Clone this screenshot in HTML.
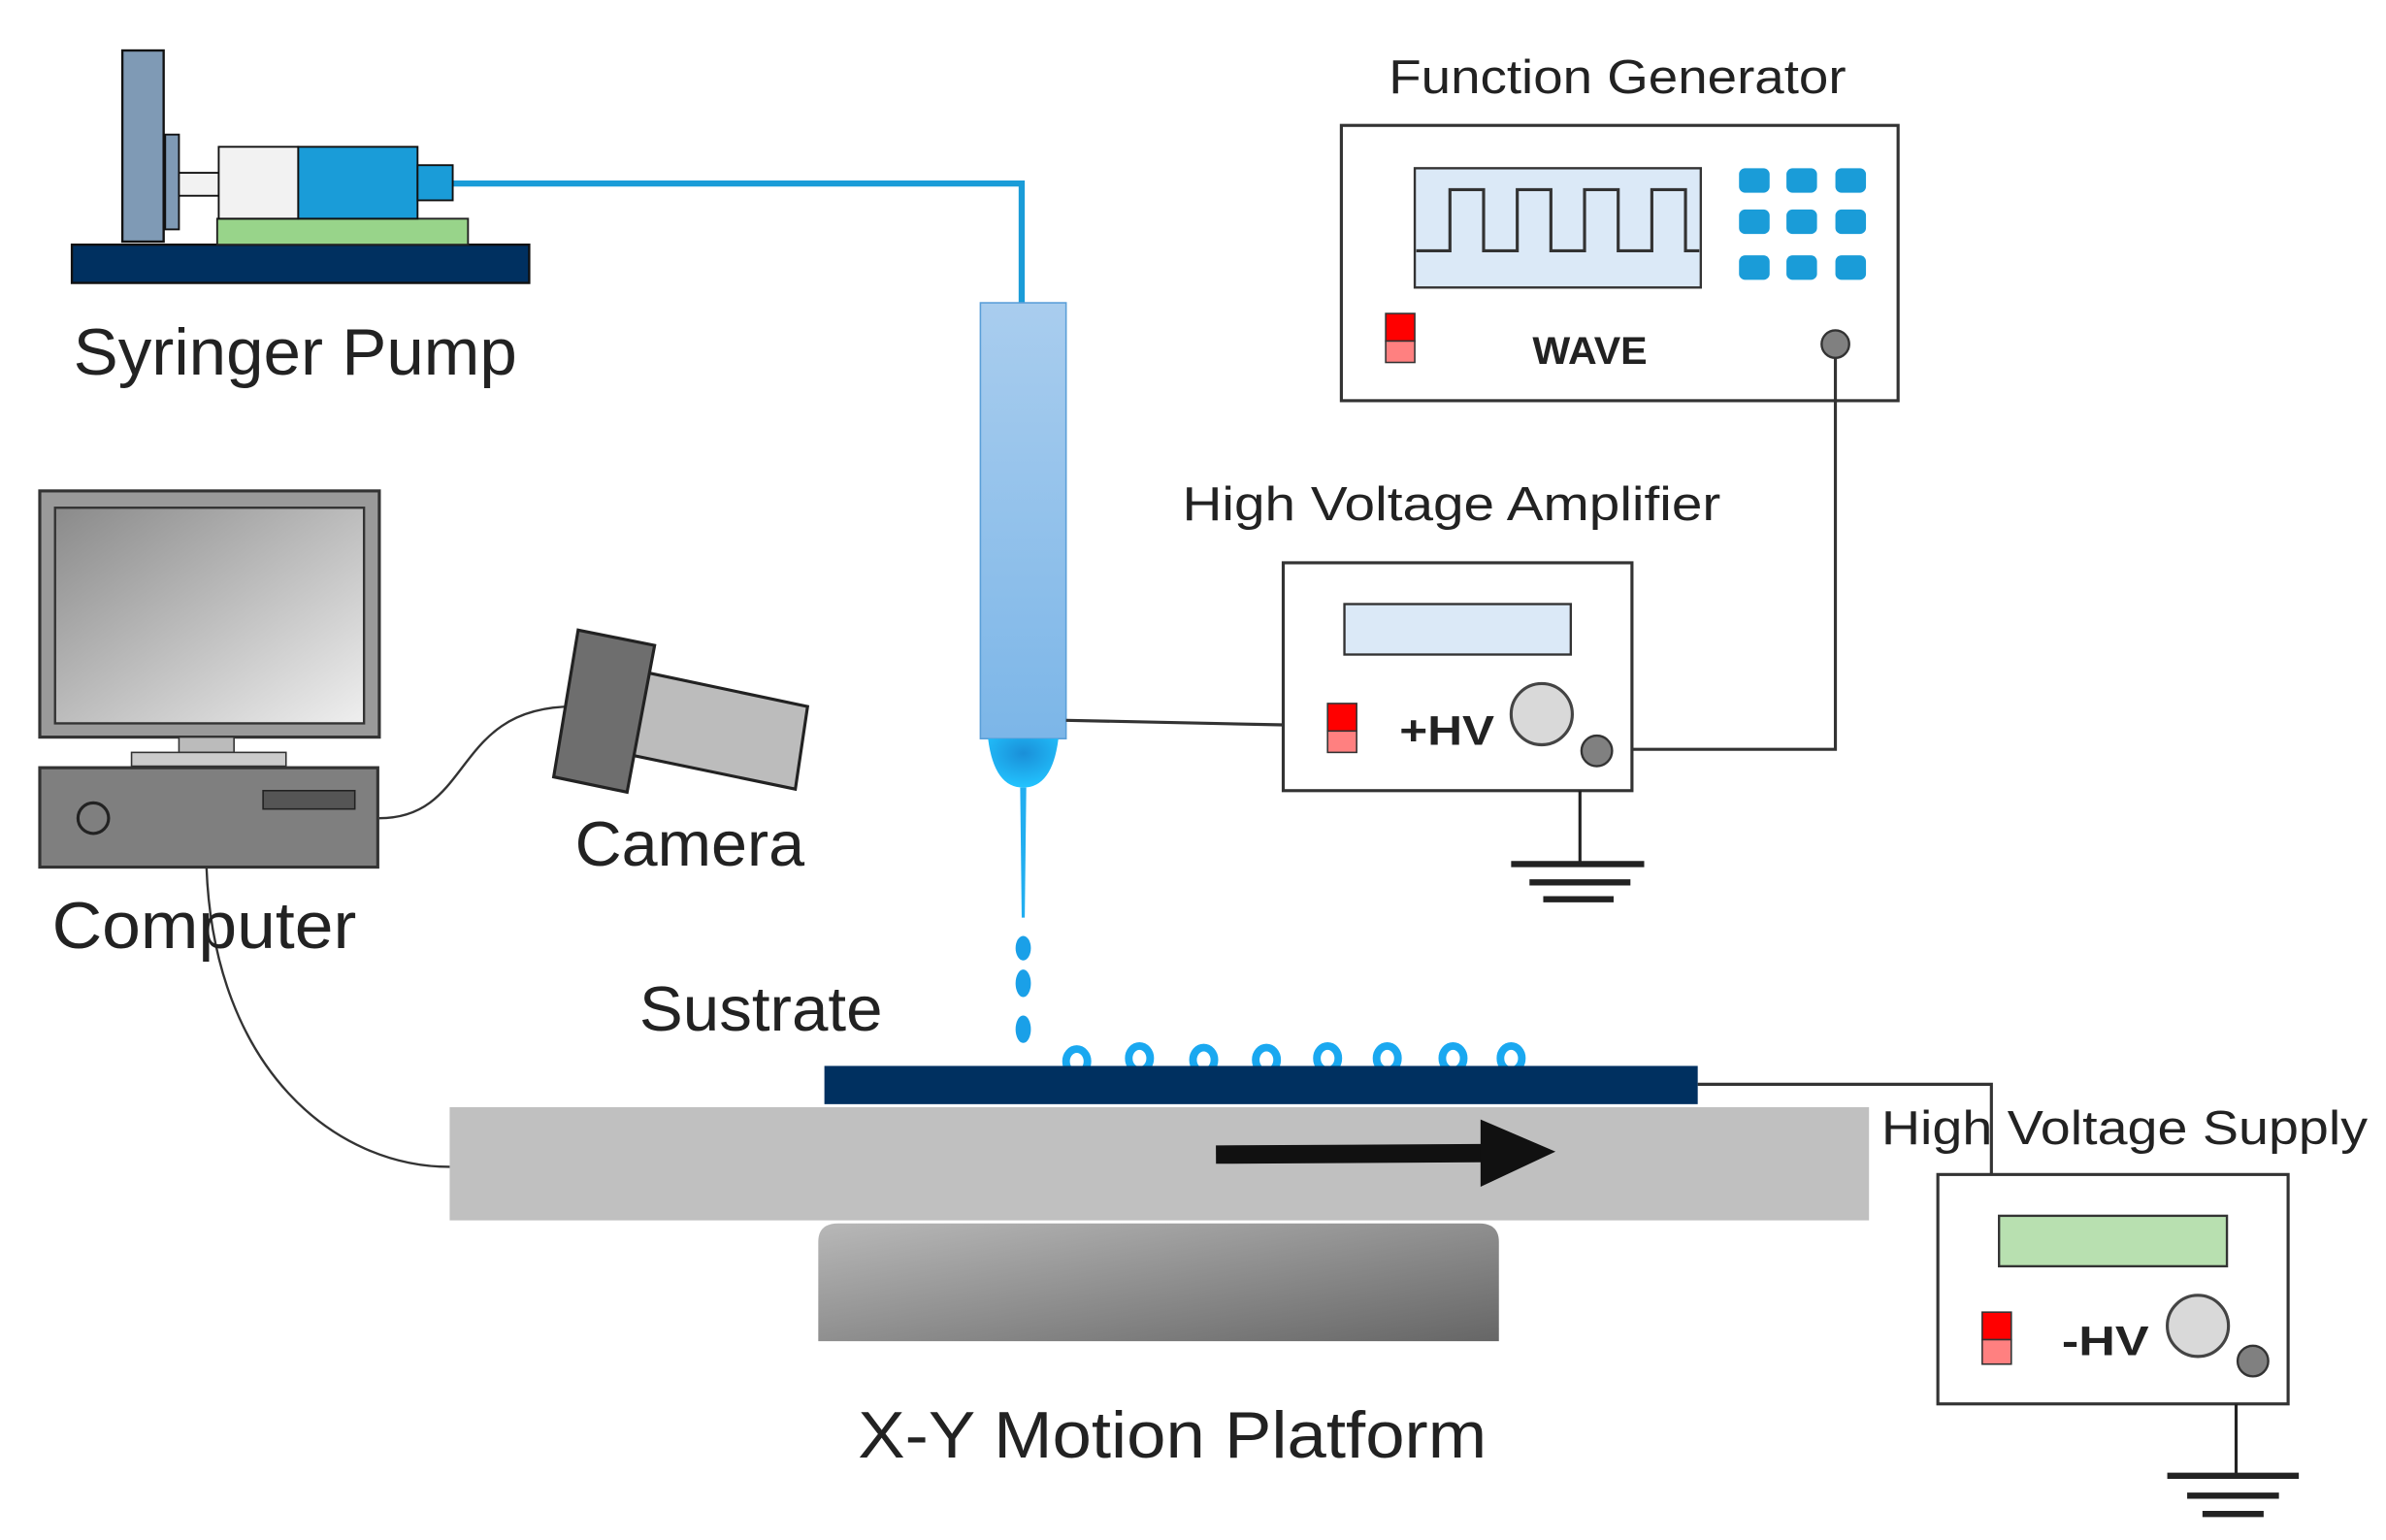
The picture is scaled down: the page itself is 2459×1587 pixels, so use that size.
<!DOCTYPE html>
<html><head><meta charset="utf-8"><style>
html,body{margin:0;padding:0;background:#fff;}
svg{display:block;}
text{font-family:"Liberation Sans",sans-serif;fill:#222;}
</style></head><body>
<svg width="2459" height="1587" viewBox="0 0 1560 1007" preserveAspectRatio="none" xmlns="http://www.w3.org/2000/svg">
<defs>
<linearGradient id="ng" x1="0" y1="0" x2="0" y2="1"><stop offset="0" stop-color="#a9cdee"/><stop offset="1" stop-color="#7cb6e8"/></linearGradient>
<radialGradient id="tg" cx="0.5" cy="0.3" r="0.7"><stop offset="0" stop-color="#1a8fd8"/><stop offset="1" stop-color="#22c4ff"/></radialGradient>
<linearGradient id="bg" x1="0" y1="0" x2="1" y2="1"><stop offset="0" stop-color="#b8b8b8"/><stop offset="1" stop-color="#666"/></linearGradient>
<linearGradient id="sg" x1="0" y1="0" x2="1" y2="1"><stop offset="0" stop-color="#8a8a8a"/><stop offset="1" stop-color="#efefef"/></linearGradient>
</defs>
<rect width="1560" height="1007" fill="#fff"/>
<!-- Syringe pump -->
<path d="M296,120 H668 V198" fill="none" stroke="#1a9cd8" stroke-width="4"/>
<rect x="47" y="160" width="299" height="25" fill="#003060" stroke="#111" stroke-width="1.5"/>
<rect x="142" y="143" width="164" height="17" fill="#98d48a" stroke="#222" stroke-width="1.2"/>
<rect x="80" y="33" width="27" height="125" fill="#7f9ab5" stroke="#111" stroke-width="1.5"/>
<rect x="108" y="88" width="9" height="62" fill="#7f9ab5" stroke="#111" stroke-width="1.2"/>
<rect x="117" y="113" width="26" height="15" fill="#f2f2f2" stroke="#111" stroke-width="1.2"/>
<rect x="143" y="96" width="52" height="47" fill="#f2f2f2" stroke="#111" stroke-width="1.2"/>
<rect x="195" y="96" width="78" height="47" fill="#1a9cd8" stroke="#111" stroke-width="1.2"/>
<rect x="273" y="108" width="23" height="23" fill="#1a9cd8" stroke="#111" stroke-width="1.2"/>
<text x="48" y="245" font-size="43" textLength="290" lengthAdjust="spacingAndGlyphs">Syringer Pump</text>
<!-- Needle -->
<rect x="641" y="198" width="56" height="285" fill="url(#ng)" stroke="#5a9fd8" stroke-width="1"/>
<path d="M646,483 H692 Q688,515 669,515 Q650,515 646,483 Z" fill="url(#tg)"/>
<path d="M667,515 L671,515 L670,600 L668,600 Z" fill="#22aef0"/>
<g fill="#1aa0e8"><ellipse cx="669" cy="620" rx="5" ry="8"/><ellipse cx="669" cy="643" rx="5" ry="9"/><ellipse cx="669" cy="673" rx="5" ry="9"/></g>
<g fill="none" stroke="#1aa8f0" stroke-width="5">
<ellipse cx="704" cy="694" rx="7" ry="8"/><ellipse cx="745" cy="692" rx="7" ry="8"/><ellipse cx="787" cy="693" rx="7" ry="8"/><ellipse cx="828" cy="693" rx="7" ry="8"/><ellipse cx="868" cy="692" rx="7" ry="8"/><ellipse cx="907" cy="692" rx="7" ry="8"/><ellipse cx="950" cy="692" rx="7" ry="8"/><ellipse cx="988" cy="692" rx="7" ry="8"/>
</g>
<!-- Platform -->
<path d="M1110,709 H1302 V768" fill="none" stroke="#333" stroke-width="2"/>
<rect x="294" y="724" width="928" height="74" fill="#c0c0c0"/>
<rect x="539" y="697" width="571" height="25" fill="#003060"/>
<path d="M535,877 V812 Q535,800 548,800 H967 Q980,800 980,812 V877 Z" fill="url(#bg)"/>
<line x1="795" y1="755" x2="972" y2="754" stroke="#111" stroke-width="12"/>
<polygon points="968,732 1017,753 968,776" fill="#111"/>
<text x="418" y="674" font-size="41" textLength="159" lengthAdjust="spacingAndGlyphs">Sustrate</text>
<text x="561" y="953" font-size="43" textLength="411" lengthAdjust="spacingAndGlyphs">X-Y Motion Platform</text>
<!-- Function generator -->
<text x="908" y="61" font-size="31" textLength="299" lengthAdjust="spacingAndGlyphs">Function Generator</text>
<rect x="877" y="82" width="364" height="180" fill="#fff" stroke="#333" stroke-width="2"/>
<rect x="925" y="110" width="187" height="78" fill="#dbe9f7" stroke="#333" stroke-width="1.5"/>
<path d="M926,164 H948 V124 H970 V164 H992 V124 H1014 V164 H1036 V124 H1058 V164 H1080 V124 H1102 V164 H1111" fill="none" stroke="#333" stroke-width="2"/>
<g fill="#1a9cd8">
<rect x="1137" y="110" width="20" height="16" rx="4"/><rect x="1168" y="110" width="20" height="16" rx="4"/><rect x="1200" y="110" width="20" height="16" rx="4"/>
<rect x="1137" y="137" width="20" height="16" rx="4"/><rect x="1168" y="137" width="20" height="16" rx="4"/><rect x="1200" y="137" width="20" height="16" rx="4"/>
<rect x="1137" y="167" width="20" height="16" rx="4"/><rect x="1168" y="167" width="20" height="16" rx="4"/><rect x="1200" y="167" width="20" height="16" rx="4"/>
</g>
<rect x="906" y="205" width="19" height="18" fill="#f00" stroke="#333"/><rect x="906" y="223" width="19" height="14" fill="#ff8080" stroke="#333"/>
<text x="1002" y="238" font-size="25" font-weight="bold" textLength="75" lengthAdjust="spacingAndGlyphs">WAVE</text>
<circle cx="1200" cy="225" r="9" fill="#808080" stroke="#333" stroke-width="1.5"/>
<path d="M1200,234 V490 H1045" fill="none" stroke="#333" stroke-width="2"/>
<!-- HV amplifier -->
<text x="773" y="340" font-size="31" textLength="352" lengthAdjust="spacingAndGlyphs">High Voltage Amplifier</text>
<line x1="697" y1="471" x2="839" y2="474" stroke="#333" stroke-width="2"/>
<rect x="839" y="368" width="228" height="149" fill="#fff" stroke="#333" stroke-width="2"/>
<rect x="879" y="395" width="148" height="33" fill="#dbe9f7" stroke="#333" stroke-width="1.5"/>
<rect x="868" y="460" width="19" height="18" fill="#f00" stroke="#333"/><rect x="868" y="478" width="19" height="14" fill="#ff8080" stroke="#333"/>
<text x="915" y="487" font-size="27" font-weight="bold" textLength="62" lengthAdjust="spacingAndGlyphs">+HV</text>
<circle cx="1008" cy="467" r="20" fill="#d9d9d9" stroke="#444" stroke-width="2"/>
<circle cx="1044" cy="491" r="10" fill="#808080" stroke="#333" stroke-width="1.5"/>
<g stroke="#222"><line x1="1033" y1="517" x2="1033" y2="565" stroke-width="2"/>
<line x1="988" y1="565" x2="1075" y2="565" stroke-width="4"/><line x1="1000" y1="577" x2="1066" y2="577" stroke-width="4"/><line x1="1009" y1="588" x2="1055" y2="588" stroke-width="4"/></g>
<!-- HV supply -->
<text x="1230" y="748" font-size="31" textLength="318" lengthAdjust="spacingAndGlyphs">High Voltage Supply</text>
<rect x="1267" y="768" width="229" height="150" fill="#fff" stroke="#333" stroke-width="2"/>
<rect x="1307" y="795" width="149" height="33" fill="#b8e0b0" stroke="#333" stroke-width="1.5"/>
<rect x="1296" y="858" width="19" height="18" fill="#f00" stroke="#333"/><rect x="1296" y="876" width="19" height="16" fill="#ff8080" stroke="#333"/>
<text x="1348" y="886" font-size="27" font-weight="bold" textLength="57" lengthAdjust="spacingAndGlyphs">-HV</text>
<circle cx="1437" cy="867" r="20" fill="#d9d9d9" stroke="#444" stroke-width="2"/>
<circle cx="1473" cy="890" r="10" fill="#808080" stroke="#333" stroke-width="1.5"/>
<g stroke="#222"><line x1="1462" y1="918" x2="1462" y2="965" stroke-width="2"/>
<line x1="1417" y1="965" x2="1503" y2="965" stroke-width="4"/><line x1="1430" y1="978" x2="1490" y2="978" stroke-width="4"/><line x1="1440" y1="990" x2="1480" y2="990" stroke-width="4"/></g>
<!-- Computer -->
<path d="M248,535 C310,535 295,462 375,462" fill="none" stroke="#333" stroke-width="1.5"/>
<path d="M135,567 C140,700 220,763 294,763" fill="none" stroke="#333" stroke-width="1.5"/>
<rect x="26" y="321" width="222" height="161" fill="#9a9a9a" stroke="#333" stroke-width="2"/>
<rect x="36" y="332" width="202" height="141" fill="url(#sg)" stroke="#333" stroke-width="1.5"/>
<rect x="117" y="482" width="36" height="10" fill="#bbb" stroke="#333"/>
<rect x="86" y="492" width="101" height="9" fill="#ccc" stroke="#333"/>
<rect x="26" y="502" width="221" height="65" fill="#7f7f7f" stroke="#333" stroke-width="2"/>
<rect x="172" y="517" width="60" height="12" fill="#555" stroke="#222"/>
<circle cx="61" cy="535" r="10" fill="none" stroke="#222" stroke-width="2"/>
<text x="34" y="620" font-size="43" textLength="199" lengthAdjust="spacingAndGlyphs">Computer</text>
<!-- Camera -->
<polygon points="424,440 528,462 520,516 414,494" fill="#bcbcbc" stroke="#222" stroke-width="2"/>
<polygon points="378,412 428,422 410,518 362,508" fill="#6e6e6e" stroke="#222" stroke-width="2"/>
<text x="376" y="566" font-size="41" textLength="150" lengthAdjust="spacingAndGlyphs">Camera</text>
</svg>
</body></html>
